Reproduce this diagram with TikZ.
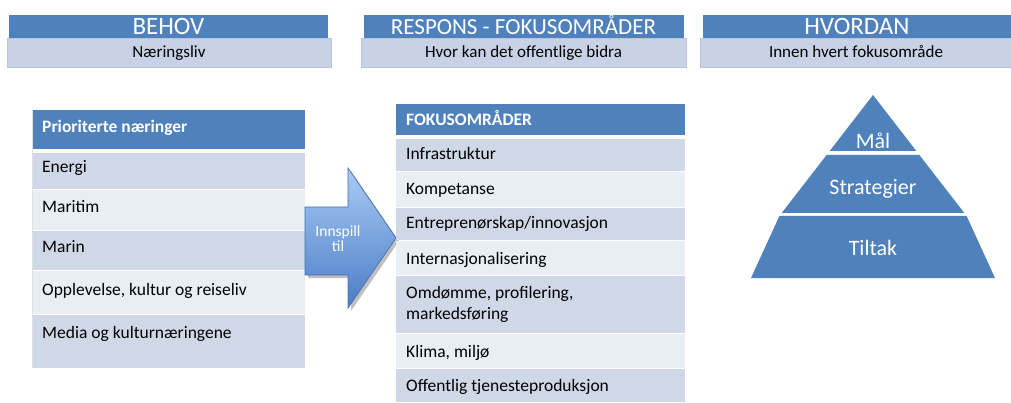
\documentclass[tikz,border=0pt]{standalone}
\usepackage{fontspec}
\setmainfont{Carlito}
\definecolor{hblue}{HTML}{4F81BD}
\definecolor{hlight}{HTML}{C7D2E6}
\definecolor{hlightedge}{HTML}{BAC6DB}
\definecolor{rowdark}{HTML}{D0D8E8}
\definecolor{rowlight}{HTML}{E9EDF4}
\definecolor{arrtop}{HTML}{A9CBF5}
\definecolor{arrbot}{HTML}{4A7CC6}
\definecolor{arredge}{HTML}{4472B0}
\tikzset{
  titletxt/.style={text=white, font=\fontsize{25}{27}\selectfont, inner sep=0pt, anchor=base},
  subtxt/.style={text=black, font=\fontsize{17}{19}\selectfont, inner sep=0pt, anchor=base},
  celltxt/.style={text=black, font=\fontsize{17.5}{21}\selectfont, inner sep=0pt, anchor=base west, align=left},
  headtxt/.style={text=white, font=\bfseries\fontsize{17.5}{21}\selectfont, inner sep=0pt, anchor=base west},
  pyrtxt/.style={text=white, font=\fontsize{22}{24}\selectfont, inner sep=0pt, anchor=base},
}
\begin{document}
\begin{tikzpicture}[x=1pt,y=-1pt]
\useasboundingbox (0,0) rectangle (1011,403);
% ---- top headers
\fill[hblue] (9,15) rectangle (328,38);
\filldraw[fill=hlight, draw=hlightedge, line width=0.6pt] (7,38) rectangle (331,67);
\node[titletxt] (behov) at (168.5,35) {BEHOV};
\node[subtxt] (naer) at (169,57.5) {Næringsliv};

\fill[hblue] (364,15) rectangle (684,38);
\filldraw[fill=hlight, draw=hlightedge, line width=0.6pt] (361,38) rectangle (686,67);
\node[titletxt, font=\fontsize{23}{25}\selectfont] (respons) at (523.5,35) {RESPONS - FOKUSOMRÅDER};
\node[subtxt] (hvor) at (523.5,57.5) {Hvor kan det offentlige bidra};

\fill[hblue] (703,15) rectangle (1011,38);
\filldraw[fill=hlight, draw=hlightedge, line width=0.6pt] (700,38) rectangle (1012,67);
\node[titletxt] (hvordan) at (857,35) {HVORDAN};
\node[subtxt] (innen) at (856,57.5) {Innen hvert fokusområde};

% ---- left table
\fill[hblue] (32,110) rectangle (305,149);
\fill[rowdark]  (32,153) rectangle (305,189);
\fill[rowlight] (32,190) rectangle (305,230);
\fill[rowdark]  (32,231) rectangle (305,270);
\fill[rowlight] (32,271) rectangle (305,314);
\fill[rowdark]  (32,315) rectangle (305,368);
\draw[white!75!gray, line width=0.6pt] (32,110) -- (32,368);
\node[headtxt] (lh) at (42,133) {Prioriterte næringer};
\node[celltxt] (l1) at (42,173) {Energi};
\node[celltxt] (l2) at (42,213) {Maritim};
\node[celltxt] (l3) at (42,253) {Marin};
\node[celltxt] (l4) at (42,295) {Opplevelse, kultur og reiseliv};
\node[celltxt] (l5) at (42,338) {Media og kulturnæringene};

% ---- arrow
\fill[black!25] (308,210) -- (351,210) -- (351,171) -- (399,241) -- (351,311) -- (351,278) -- (308,278) -- cycle;
\shade[top color=arrtop, bottom color=arrbot] (305,207) -- (348,207) -- (348,168) -- (396,238) -- (348,308) -- (348,275) -- (305,275) -- cycle;
\draw[arredge, line width=0.7pt] (305,207) -- (348,207) -- (348,168) -- (396,238) -- (348,308) -- (348,275) -- (305,275) -- cycle;
\node[text=white, font=\fontsize{15.5}{15}\selectfont, align=center, inner sep=0pt] (innspill) at (338,239) {Innspill\\til};

% ---- right table
\fill[hblue] (396,104) rectangle (685,135);
\fill[rowdark]  (396,139) rectangle (685,171);
\fill[rowlight] (396,172) rectangle (685,207);
\fill[rowdark]  (396,208) rectangle (685,240);
\fill[rowlight] (396,241) rectangle (685,275);
\fill[rowdark]  (396,276) rectangle (685,333);
\fill[rowlight] (396,334) rectangle (685,368);
\fill[rowdark]  (396,369) rectangle (685,402);
\node[headtxt] (rh) at (406,126) {FOKUSOMRÅDER};
\node[celltxt] (r1) at (406,160) {Infrastruktur};
\node[celltxt] (r2) at (406,195) {Kompetanse};
\node[celltxt] (r3) at (406,229) {Entreprenørskap/innovasjon};
\node[celltxt] (r4) at (406,264) {Internasjonalisering};
\node[celltxt] (r5) at (406,319) {Omdømme, profilering,\\markedsføring};
\node[celltxt] (r6) at (406,357) {Klima, miljø};
\node[celltxt] (r7) at (406,391) {Offentlig tjenesteproduksjon};

% ---- pyramid
\fill[hblue] (873,95) -- (916.3,151) -- (829.7,151) -- cycle;
\fill[hblue] (919.4,155) -- (964.3,213) -- (781.7,213) -- (826.6,155) -- cycle;
\fill[hblue] (966.6,216) -- (995,278) -- (751,278) -- (779.4,216) -- cycle;
\node[pyrtxt] (maal) at (873,149) {Mål};
\node[pyrtxt] (strat) at (873,195) {Strategier};
\node[pyrtxt] (tiltak) at (873,255) {Tiltak};
\end{tikzpicture}
\end{document}
